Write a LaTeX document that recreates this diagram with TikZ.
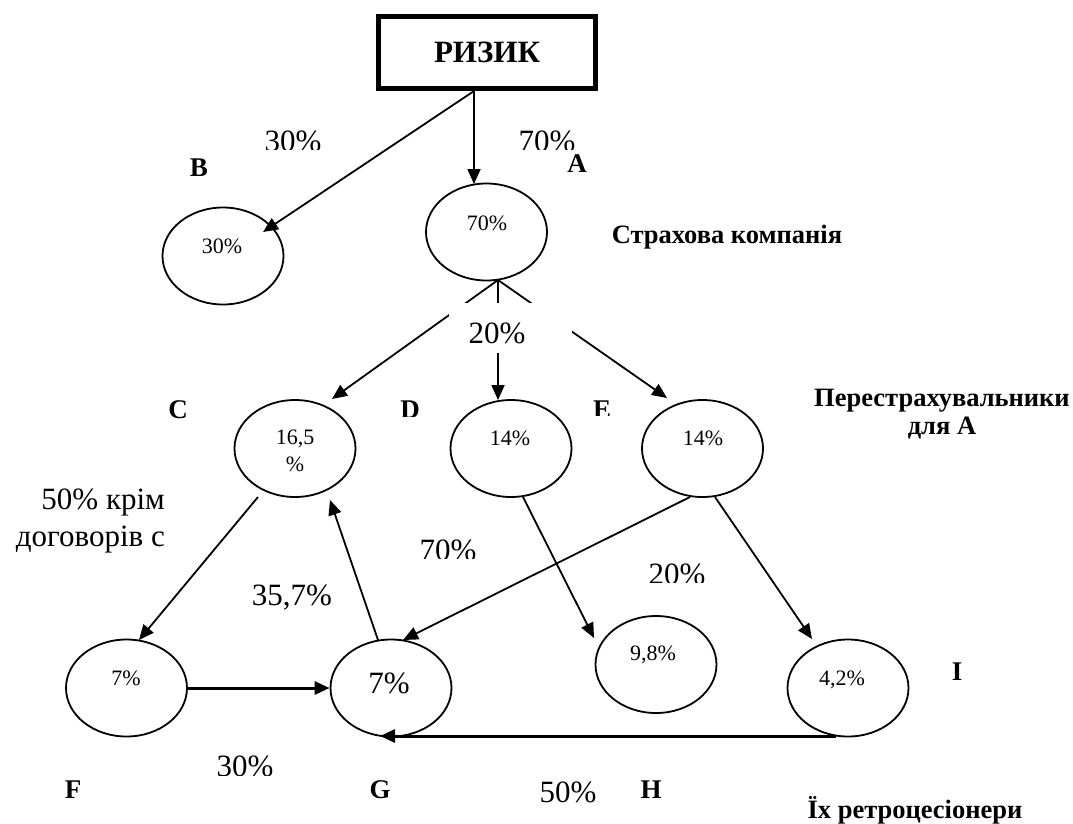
\documentclass[tikz,border=0pt]{standalone}
\usepackage{fontspec}
\setmainfont{Liberation Serif}
\usetikzlibrary{arrows.meta,shapes.geometric,calc}
\begin{document}
\begin{tikzpicture}[x=1pt,y=-1pt,
  oval/.style={ellipse,draw,line width=1.8pt,minimum width=121pt,minimum height=97pt,inner sep=0pt},
  val/.style={font=\fontsize{22}{27}\selectfont,inner sep=0pt,align=center},
  big/.style={font=\fontsize{31}{37}\selectfont,inner sep=0pt},
  lett/.style={font=\fontsize{27}{30}\selectfont\bfseries,inner sep=0pt},
  capt/.style={font=\fontsize{26.5}{28}\selectfont\bfseries,inner sep=0pt,align=center},
  arr/.style={line width=1.8pt,-{Triangle[length=15pt,width=13pt]}},
  heavyarr/.style={line width=3pt,-{Triangle[length=15pt,width=13pt]}}
]
\useasboundingbox[fill=white] (0,0) rectangle (1073,823);

% top box
\node[draw,line width=5pt,minimum width=217pt,minimum height=72pt,inner sep=0pt,
      font=\fontsize{31}{34}\selectfont\bfseries] (risk) at (487,52) {РИЗИК};

% ellipses
\node[oval] (B) at (223,256) {};
\node[oval] (A) at (486.5,232) {};
\node[oval] (C) at (295,448.5) {};
\node[oval] (D) at (511,448.5) {};
\node[oval] (E) at (702.5,448.5) {};
\node[oval] (F) at (126.5,688) {};
\node[oval] (G) at (391,688) {};
\node[oval] (H) at (656,664.5) {};
\node[oval] (I) at (848,688) {};

% ellipse texts
\node[val] (Bt) at (222,246) {30\%};
\node[val] (At) at (487,223) {70\%};
\node[val] (Ct) at (295,451) {16,5\\\%};
\node[val] (Dt) at (510,438) {14\%};
\node[val] (Et) at (703,438) {14\%};
\node[val] (Ft) at (126,678) {7\%};
\node[big] (Gt) at (389,683) {7\%};
\node[val] (Ht) at (653,655) {9,8\%};
\node[val] (It) at (842,680) {4,2\%};

% connector end points
\coordinate (rs) at (474,91);
\coordinate (Btip) at (263,232);
\coordinate (Atip) at (474,184);
\coordinate (Aap) at (498,280);
\coordinate (Ctip) at (332,399);
\coordinate (Dtip) at (498,400);
\coordinate (Etip) at (667,398);
\coordinate (Cout) at (258,497);
\coordinate (Ftip) at (139,640);
\coordinate (Gout) at (378,640);
\coordinate (Cin) at (330,500);
\coordinate (Eout) at (690,497);
\coordinate (Gtip) at (403,640);
\coordinate (Dout) at (523,497);
\coordinate (Htip) at (594,638);
\coordinate (Eout2) at (715,497);
\coordinate (Itip) at (812,639);
\coordinate (Iout) at (836,736);
\coordinate (Gbot) at (380,736);

% connectors
\draw[arr] (rs) -- (Btip);
\draw[arr] (rs) -- (Atip);
\draw[arr] (Aap) -- (Ctip);
\draw[arr] (Aap) -- (Dtip);
\draw[arr] (Aap) -- (Etip);
\draw[arr] (Cout) -- (Ftip);
\draw[arr] (Gout) -- (Cin);
\draw[arr] (Eout) -- (Gtip);
\draw[arr] (Dout) -- (Htip);
\draw[arr] (Eout2) -- (Itip);
\draw[heavyarr] (F.east) -- (G.west);
\draw[heavyarr] (Iout) -- (Gbot);

% 20% label over the three branches
\node[fill=white,minimum width=123pt,minimum height=50pt,inner sep=0pt] (box20) at (510.5,328) {};
\node[big] (l20a) at (497,333) {20\%};

% labels (some clipped at the bottom as in the original)
\begin{scope}\clip (250,110) rectangle (340,149.5);
  \node[big] (l30a) at (293,141) {30\%};\end{scope}
\begin{scope}\clip (500,110) rectangle (595,149.5);
  \node[big] (l70a) at (547,141) {70\%};\end{scope}
\begin{scope}\clip (180,150) rectangle (220,175);
  \node[lett] (lB) at (199,168) {B};\end{scope}
\node[lett] (lA) at (577,164) {A};
\node[capt] (cap1) at (727,237) {Страхова компанія};
\node[lett] (lC) at (178,410) {C};
\begin{scope}\clip (390,395) rectangle (430,416);
  \node[lett] (lD) at (410,410) {D};\end{scope}
\begin{scope}\clip (585,395) rectangle (620,415);
  \node[lett] (lE) at (602,410) {E};\end{scope}
\node[capt] (cap2) at (942,414) {Перестрахувальники\\для А};
\node[big,align=right,anchor=east] (l50c) at (165,521) {50\% крім\\договорів с};
\node[big] (l357) at (292,598) {35,7\%};
\begin{scope}\clip (405,530) rectangle (495,558);
  \node[big] (l70b) at (448,550) {70\%};\end{scope}
\begin{scope}\clip (635,555) rectangle (720,582);
  \node[big] (l20b) at (677,574) {20\%};\end{scope}
\begin{scope}\clip (195,745) rectangle (295,775);
  \node[big] (l30b) at (245,766) {30\%};\end{scope}
\begin{scope}\clip (55,770) rectangle (95,799);
  \node[lett] (lF) at (73,790) {F};\end{scope}
\node[lett] (lG) at (380,790) {G};
\node[big] (l50) at (568,792) {50\%};
\node[lett] (lH) at (651,790) {H};
\node[lett] (lI) at (957,672) {I};
\node[capt] (cap3) at (915,810) {Їх ретроцесіонери};
\end{tikzpicture}
\end{document}
